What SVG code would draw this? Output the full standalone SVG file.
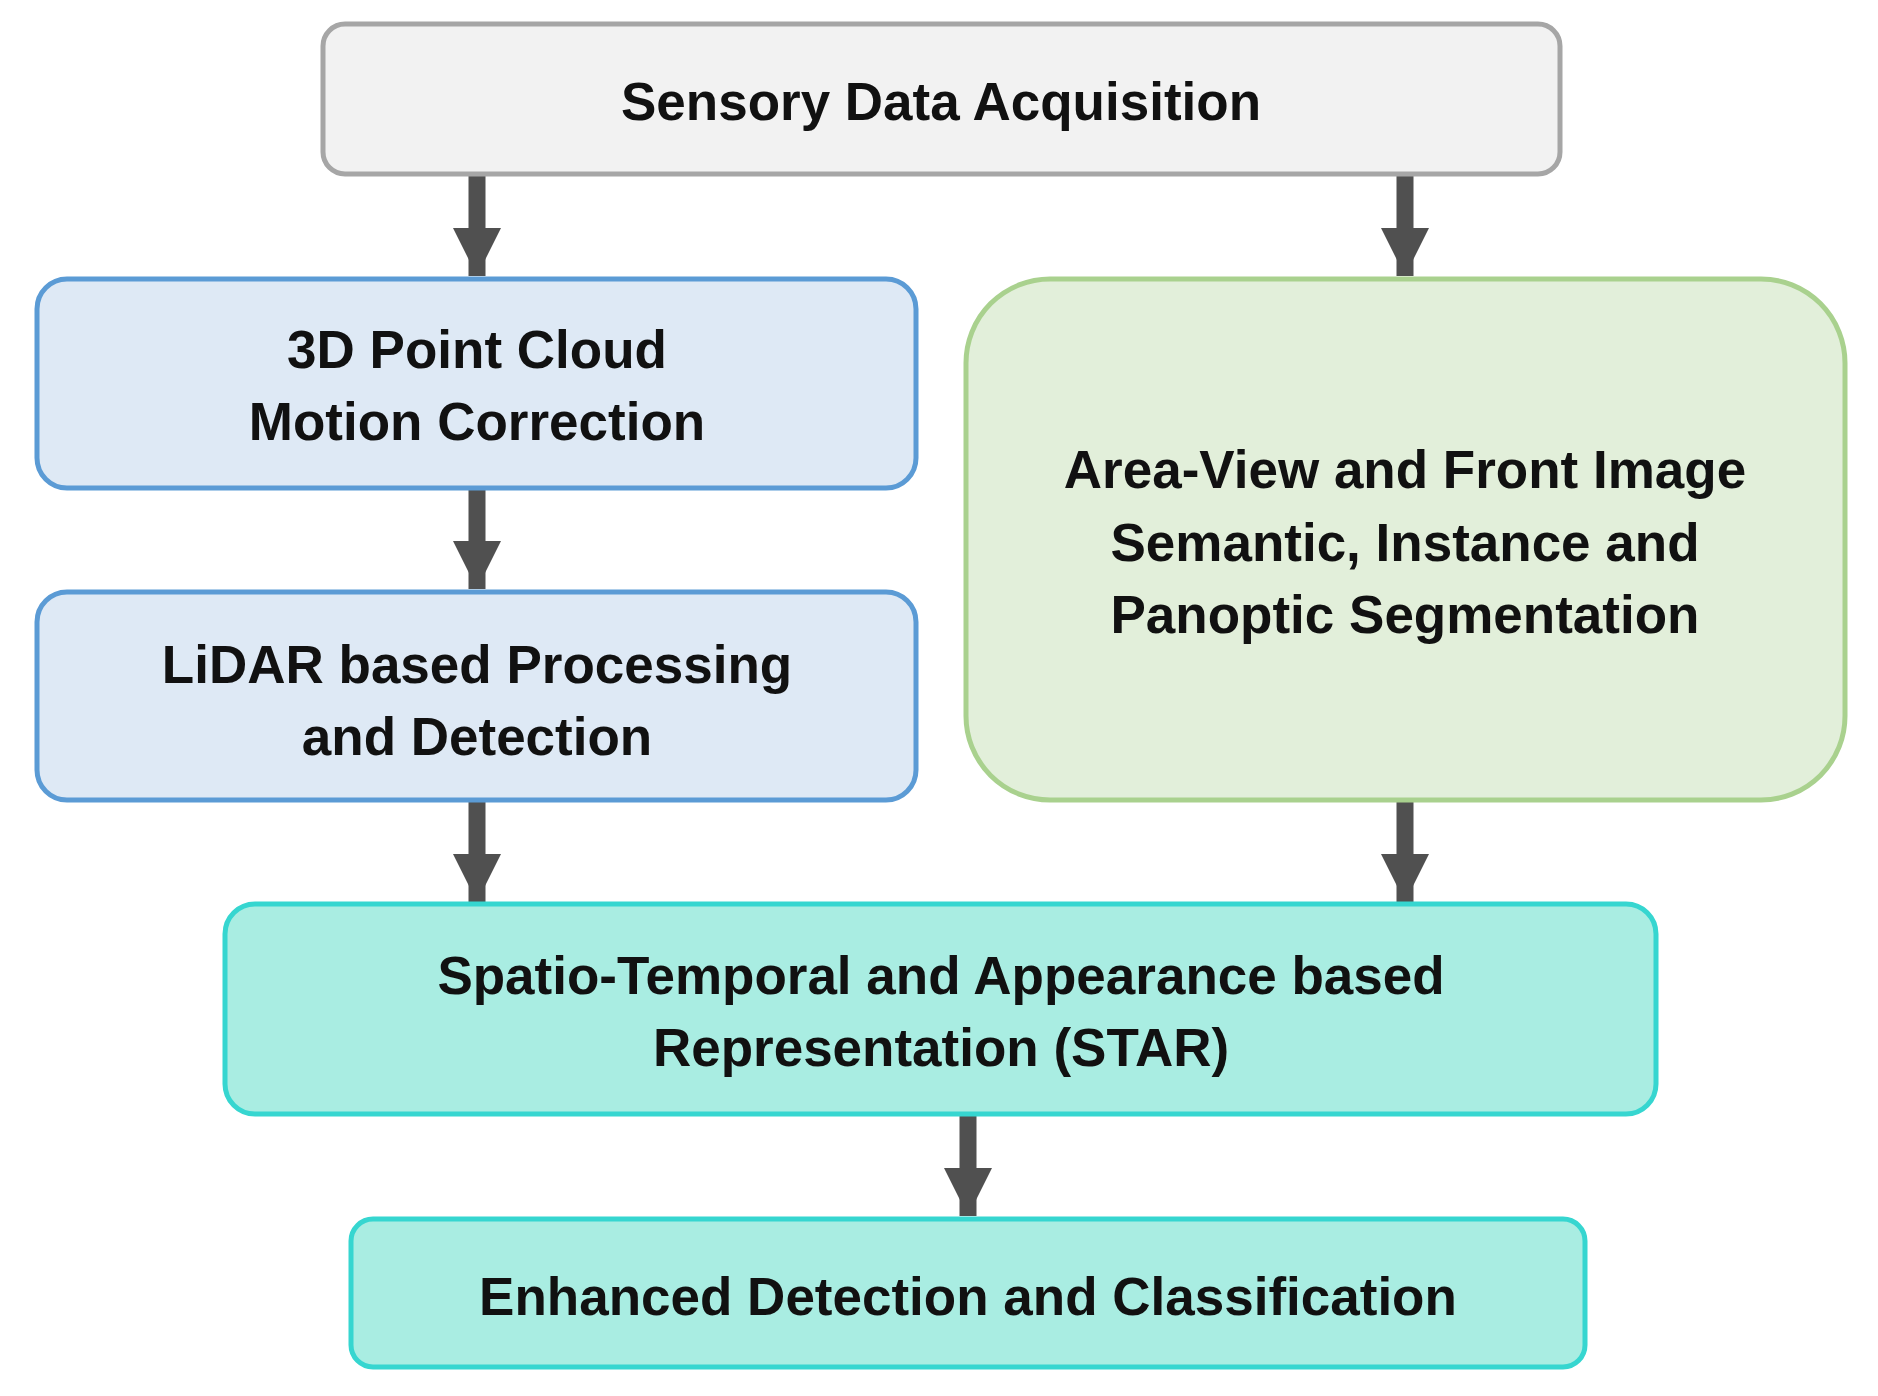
<svg xmlns="http://www.w3.org/2000/svg" width="1878" height="1396" viewBox="0 0 1878 1396">
<style>
text{font-family:"Liberation Sans",Arial,sans-serif;font-weight:bold;font-size:53px;fill:#111;text-anchor:middle}
.b{stroke-width:5}
.c{fill:none;stroke:#505050;stroke-width:17}
</style>
<defs><marker id="ah" markerUnits="userSpaceOnUse" markerWidth="48" markerHeight="48" refX="48" refY="24" orient="auto"><path d="M0,0L48,24L0,48Z" fill="#505050"/></marker></defs>
<rect width="1878" height="1396" fill="#fff"/>
<g id="connectors">
<line class="c" x1="477" y1="176" x2="477" y2="276" marker-end="url(#ah)"/>
<line class="c" x1="1405" y1="176" x2="1405" y2="276" marker-end="url(#ah)"/>
<line class="c" x1="477" y1="490" x2="477" y2="589" marker-end="url(#ah)"/>
<line class="c" x1="477" y1="802" x2="477" y2="902" marker-end="url(#ah)"/>
<line class="c" x1="1405" y1="802" x2="1405" y2="902" marker-end="url(#ah)"/>
<line class="c" x1="968" y1="1116" x2="968" y2="1216" marker-end="url(#ah)"/>
</g>
<g id="n1"><rect class="b" x="323" y="24" width="1237" height="150" rx="22" fill="#f2f2f2" stroke="#a6a6a6"/><text x="941" y="120">Sensory Data Acquisition</text></g>
<g id="n2"><rect class="b" x="37" y="279" width="879" height="209" rx="30" fill="#dee9f5" stroke="#5b9bd5"/><text x="477" y="368">3D Point Cloud</text><text x="477" y="440">Motion Correction</text></g>
<g id="n3"><rect class="b" x="37" y="592" width="879" height="208" rx="30" fill="#dee9f5" stroke="#5b9bd5"/><text x="477" y="683">LiDAR based Processing</text><text x="477" y="755">and Detection</text></g>
<g id="n4"><rect class="b" x="966" y="279" width="879" height="521" rx="84" fill="#e2efda" stroke="#a9d18e"/><text x="1405" y="488">Area-View and Front Image</text><text x="1405" y="561">Semantic, Instance and</text><text x="1405" y="633">Panoptic Segmentation</text></g>
<g id="n5"><rect class="b" x="225" y="904" width="1431" height="210" rx="30" fill="#a9ede2" stroke="#36d6d0"/><text x="941" y="994">Spatio-Temporal and Appearance based</text><text x="941" y="1066">Representation (STAR)</text></g>
<g id="n6"><rect class="b" x="351" y="1219" width="1234" height="148" rx="22" fill="#a9ede2" stroke="#36d6d0"/><text x="968" y="1315">Enhanced Detection and Classification</text></g>
</svg>
